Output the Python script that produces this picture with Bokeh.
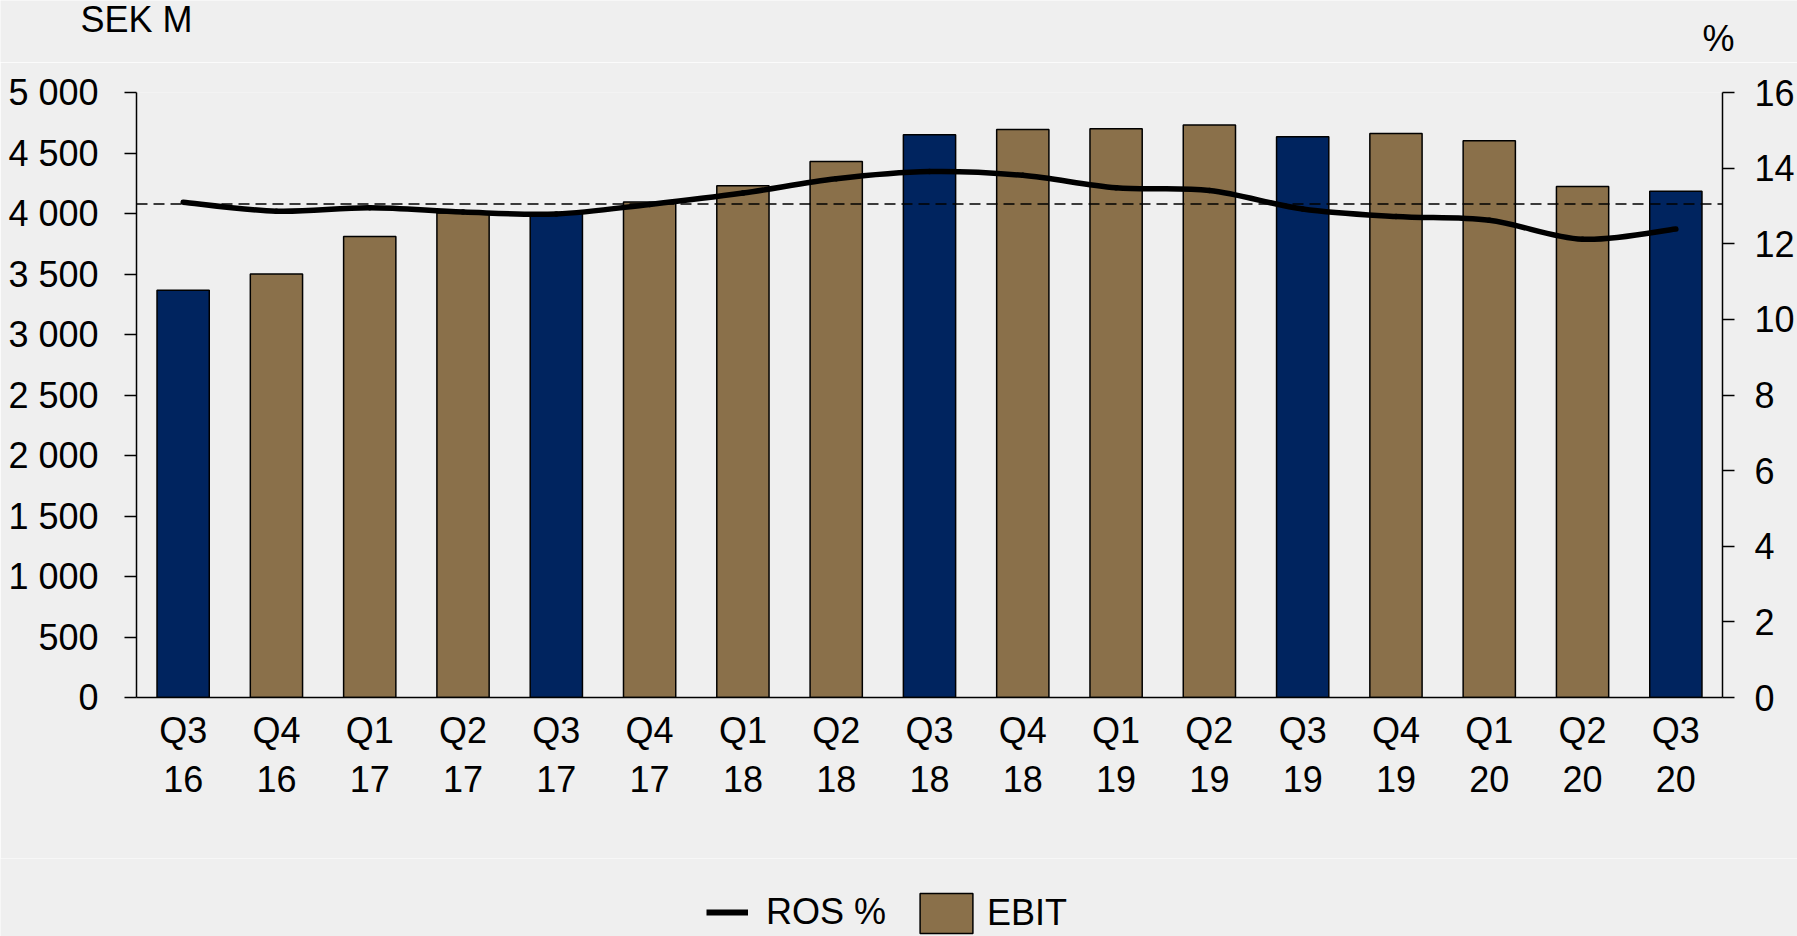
import numpy as np
from bokeh.plotting import figure
from bokeh.layouts import column
from bokeh.models import (Range1d, LinearAxis, FixedTicker, Span, Label, Legend,
                          LegendItem, ColumnDataSource)
from bokeh.embed import file_html
from bokeh.resources import INLINE

# ---------------- data ----------------
quarters = ["Q3\n16", "Q4\n16", "Q1\n17", "Q2\n17", "Q3\n17", "Q4\n17", "Q1\n18",
            "Q2\n18", "Q3\n18", "Q4\n18", "Q1\n19", "Q2\n19", "Q3\n19", "Q4\n19",
            "Q1\n20", "Q2\n20", "Q3\n20"]
ebit = [3365, 3500, 3810, 4005, 4000, 4095, 4230, 4430, 4650, 4695, 4700, 4732,
        4634, 4661, 4601, 4223, 4184]
ros = [13.10, 12.86, 12.95, 12.84, 12.79, 13.04, 13.34, 13.72, 13.91, 13.81, 13.48,
       13.41, 12.92, 12.72, 12.62, 12.12, 12.39]
ros_reference = 13.05

left_ticks = [0, 500, 1000, 1500, 2000, 2500, 3000, 3500, 4000, 4500, 5000]
left_labels = ["0", "500", "1 000", "1 500", "2 000", "2 500", "3 000", "3 500",
               "4 000", "4 500", "5 000"]
right_ticks = [0, 2, 4, 6, 8, 10, 12, 14, 16]
right_labels = ["0", "2", "4", "6", "8", "10", "12", "14", "16"]

NAVY = "#00245F"
BROWN = "#8A704A"
BG = "#EFEFEF"
FONT = "Liberation Sans"
FS = "36px"
W = 1797
TOP_H, MAIN_H, LEG_H = 62, 796, 78

idx = list(range(len(quarters)))
colors = [NAVY if q.startswith("Q3") else BROWN for q in quarters]


def strip(height):
    f = figure(width=W, height=height, x_axis_type=None, y_axis_type=None,
               x_range=Range1d(0, 1), y_range=Range1d(0, 1),
               output_backend="svg", toolbar_location=None, frame_align=False,
               min_border_left=0, min_border_right=0, min_border_top=0,
               min_border_bottom=0, background_fill_color=BG, border_fill_color=BG)
    f.outline_line_color = None
    f.xgrid.visible = False
    f.ygrid.visible = False
    return f


# ---------------- top strip: unit labels ----------------
top = strip(TOP_H)
top.add_layout(Label(x=80, y=TOP_H - 19, x_units="screen", y_units="screen",
                     text="SEK M", text_font=FONT, text_font_size=FS,
                     text_baseline="alphabetic", text_align="left", text_color="black"))
top.add_layout(Label(x=1702, y=TOP_H - 38, x_units="screen", y_units="screen",
                     text="%", text_font=FONT, text_font_size=FS,
                     text_baseline="alphabetic", text_align="left", text_color="black"))

# ---------------- main chart ----------------
p = figure(width=W, height=MAIN_H, x_range=Range1d(-0.5, len(quarters) - 0.5),
           y_range=Range1d(0, 5000), output_backend="svg", toolbar_location=None,
           frame_align=False,
           min_border_left=136, min_border_right=75, min_border_top=30,
           min_border_bottom=161, background_fill_color=BG, border_fill_color=BG)
p.extra_y_ranges = {"ros": Range1d(0, 16)}
p.xgrid.visible = False
p.ygrid.visible = False
p.outline_line_color = None

bars_src = ColumnDataSource(dict(x=idx, top=ebit, color=colors))
bars = p.vbar(x="x", top="top", width=0.56, source=bars_src, fill_color="color",
              line_color="black", line_width=1.5)

span = Span(location=ros_reference, dimension="width", y_range_name="ros",
            line_color="black", line_width=1.6, line_dash="11 6")
p.add_layout(span)

# smooth ROS curve: cubic Bezier segments through the data points
xa = np.array(idx, dtype=float)
ya = np.array(ros, dtype=float)
xe = np.concatenate([[xa[0]], xa, [xa[-1]]])
ye = np.concatenate([[ya[0]], ya, [ya[-1]]])
n = len(xa)
bz = dict(x0=[], y0=[], x1=[], y1=[], cx0=[], cy0=[], cx1=[], cy1=[])
for i in range(n - 1):
    bz["x0"].append(xa[i]); bz["y0"].append(ya[i])
    bz["x1"].append(xa[i + 1]); bz["y1"].append(ya[i + 1])
    bz["cx0"].append(xa[i] + (xe[i + 2] - xe[i]) / 6.0)
    bz["cy0"].append(ya[i] + (ye[i + 2] - ye[i]) / 6.0)
    bz["cx1"].append(xa[i + 1] - (xe[i + 3] - xe[i + 1]) / 6.0)
    bz["cy1"].append(ya[i + 1] - (ye[i + 3] - ye[i + 1]) / 6.0)
ros_r = p.bezier(x0="x0", y0="y0", x1="x1", y1="y1", cx0="cx0", cy0="cy0",
                 cx1="cx1", cy1="cy1", source=ColumnDataSource(bz),
                 y_range_name="ros", line_color="black", line_width=5.5,
                 line_cap="round")
ros_r.level = "overlay"

xax = p.xaxis[0]
xax.ticker = FixedTicker(ticks=idx)
xax.major_label_overrides = {i: q for i, q in zip(idx, quarters)}
xax.major_tick_out = 0
xax.major_tick_in = 0
xax.minor_tick_out = 0
xax.minor_tick_in = 0
xax.axis_line_color = "black"
xax.axis_line_width = 1.5
xax.major_label_standoff = 12
xax.major_label_text_font = FONT
xax.major_label_text_font_size = FS
xax.major_label_text_color = "black"

yax = p.yaxis[0]
yax.ticker = FixedTicker(ticks=left_ticks)
yax.major_label_overrides = {t: l for t, l in zip(left_ticks, left_labels)}
yax.major_tick_out = 12
yax.major_tick_in = 0
yax.minor_tick_out = 0
yax.minor_tick_in = 0
yax.axis_line_width = 1.5
yax.major_tick_line_width = 1.5
yax.major_label_standoff = 26
yax.major_label_text_font = FONT
yax.major_label_text_font_size = FS
yax.major_label_text_color = "black"

rax = LinearAxis(y_range_name="ros", ticker=FixedTicker(ticks=right_ticks))
rax.major_label_overrides = {t: l for t, l in zip(right_ticks, right_labels)}
rax.major_tick_out = 12
rax.major_tick_in = 0
rax.minor_tick_out = 0
rax.minor_tick_in = 0
rax.axis_line_width = 1.5
rax.major_tick_line_width = 1.5
rax.major_label_standoff = 20
rax.major_label_text_font = FONT
rax.major_label_text_font_size = FS
rax.major_label_text_color = "black"
p.add_layout(rax, "right")

# ---------------- legend strip ----------------
leg = strip(LEG_H)
leg_line = leg.line(x=idx, y=ros, line_color="black", line_width=6, visible=False)
leg_box = leg.vbar(x=idx, top=ebit, width=0.5, fill_color=BROWN, line_color="black",
                   line_width=1.5, visible=False)
common = dict(orientation="horizontal", background_fill_alpha=0,
              border_line_color=None, label_text_font=FONT,
              label_text_font_size=FS, label_text_color="black",
              padding=0, margin=0, spacing=0)
legend_ros = Legend(items=[LegendItem(label="ROS %", renderers=[leg_line])],
                    location=(706, 3), glyph_width=42, glyph_height=40,
                    label_standoff=18, **common)
legend_ebit = Legend(items=[LegendItem(label="EBIT", renderers=[leg_box])],
                     location=(913, -2), glyph_width=66, glyph_height=50,
                     label_standoff=8, **common)
leg.add_layout(legend_ros)
leg.add_layout(legend_ebit)

layout = column(top, p, leg, spacing=0)
open("out.html", "w").write(file_html(layout, INLINE))
